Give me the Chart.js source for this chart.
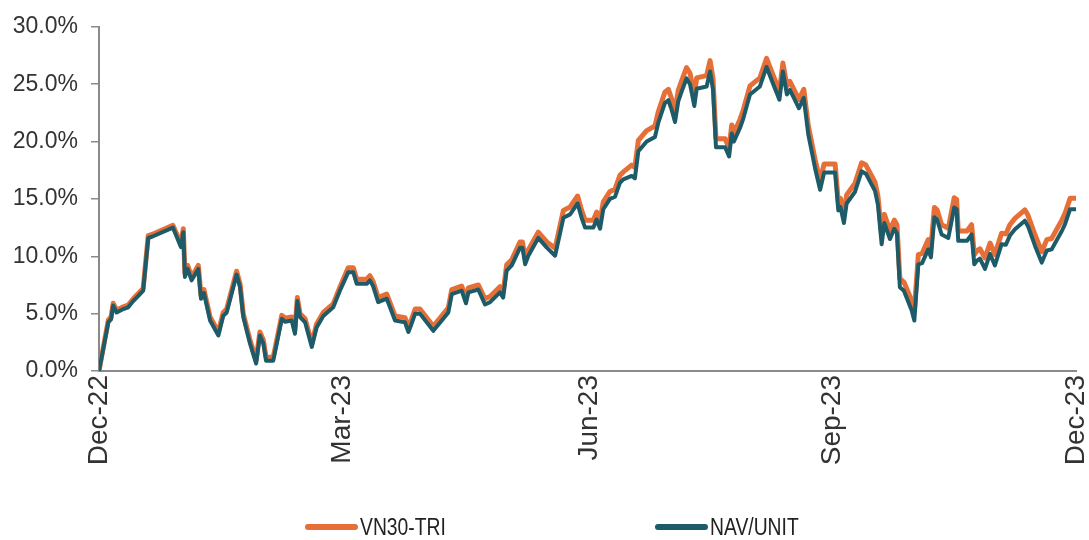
<!DOCTYPE html>
<html>
<head>
<meta charset="utf-8">
<script src="https://cdn.jsdelivr.net/npm/chart.js@4.4.0/dist/chart.umd.min.js"></script>
<style>
  html, body { margin: 0; padding: 0; background: #fff; }
  #wrap { position: relative; width: 1089px; height: 540px; }
  #legend { position: absolute; top: 513px; left: 0; width: 1089px; height: 28px;
    font: 23px "Liberation Sans", Arial, sans-serif; color: #222; }
  .item { position: absolute; top: 0; height: 28px; display: flex; align-items: center; white-space: nowrap; }
  .swatch { display: inline-block; width: 53px; height: 6px; border-radius: 3px; margin-right: 2px; }
  .txt { display: inline-block; transform: scaleX(0.84); transform-origin: left center; }
</style>
</head>
<body>
<div id="wrap">
  <canvas id="chart" width="1089" height="540"></canvas>
  <div id="legend"></div>
</div>
<script>
// days since 30-Dec-2022
const days = [
  0, 3.5, 4.5, 5.3, 6.6, 9.1, 10.9, 12.8, 14.7, 16.5, 18.4, 19.8, 27.6, 30.6, 31.5, 32.1, 33.1, 34.6, 37.1, 38.1,
  39.2, 41.5, 44.6, 46.4, 47.7, 51.4, 52.7, 53.9, 56.4, 58.7, 60.1, 61.4, 62.4, 65.1, 68.3, 69.5, 72.0, 73.2, 74.1, 75.1,
  77.0, 79.5, 81.3, 83.8, 87.5, 90.0, 93.1, 95.0, 96.3, 100.0, 101.2, 102.4, 104.3, 107.5, 110.6, 114.3, 115.6, 116.6, 118.1, 119.9,
  124.9, 128.6, 130.5, 131.8, 135.5, 137.1, 138.0, 141.7, 144.2, 146.1, 149.8, 151.0, 152.3, 154.2, 157.3, 158.2, 159.2, 160.4, 164.1, 167.3,
  170.4, 173.5, 176.0, 178.8, 180.3, 181.6, 184.7, 185.9, 187.2, 188.4, 190.9, 192.8, 194.6, 195.9, 199.0, 200.2, 201.5, 204.6, 207.7, 208.9,
  211.4, 212.7, 213.9, 215.2, 216.4, 217.6, 219.5, 220.8, 222.4, 223.3, 227.0, 228.3, 229.4, 230.5, 233.9, 235.4, 236.4, 237.2, 239.5, 240.7,
  243.2, 246.9, 249.4, 251.9, 254.2, 255.5, 257.0, 258.1, 259.6, 261.5, 263.3, 265.0, 267.5, 269.4, 270.9, 275.0, 276.2, 277.0, 278.3, 279.3,
  282.4, 284.9, 286.5, 289.9, 291.0, 292.4, 293.4, 295.5, 297.1, 298.1, 299.2, 300.7, 303.6, 304.6, 306.1, 307.5, 309.8, 310.8, 312.1, 313.1,
  314.8, 317.3, 319.5, 320.4, 321.0, 324.3, 326.0, 327.0, 327.9, 329.1, 331.0, 332.9, 334.7, 337.2, 338.8, 340.3, 342.2, 345.9, 347.1, 349.7,
  352.2, 354.1, 355.9, 359.7, 360.9, 362.8, 365
];

const vn30Tri = [
  0, 4.45, 4.7, 5.9, 5.3, 5.6, 5.75, 6.3, 6.75, 7.2, 11.8, 11.9, 12.7, 11.1, 12.4, 8.5, 9.2, 8.2, 9.2, 6.6,
  7.1, 4.7, 3.4, 5.1, 5.4, 8.7, 7.6, 5.0, 2.7, 0.95, 3.4, 2.7, 1.2, 1.2, 4.85, 4.6, 4.7, 3.55, 6.4, 5.0,
  4.55, 2.4, 4.1, 5.1, 5.85, 7.3, 9.0, 9.0, 8.0, 8.0, 8.3, 7.8, 6.4, 6.7, 4.8, 4.65, 3.8, 4.4, 5.4, 5.4,
  3.9, 4.95, 5.5, 7.1, 7.4, 6.3, 7.25, 7.5, 6.3, 6.5, 7.35, 6.9, 9.25, 9.7, 11.25, 11.25, 9.8, 10.55, 12.1, 11.25,
  10.7, 14.0, 14.3, 15.25, 14.0, 13.15, 13.15, 13.85, 13.05, 14.75, 15.65, 15.85, 17.05, 17.35, 17.95, 17.75, 20.1, 20.95, 21.35, 22.55,
  24.3, 24.55, 23.75, 22.65, 24.45, 25.25, 26.45, 25.95, 24.05, 25.55, 25.75, 27.05, 25.45, 20.25, 20.25, 19.45, 21.45, 20.75, 21.95, 22.75,
  24.85, 25.55, 27.25, 25.75, 24.4, 26.85, 24.85, 25.25, 24.55, 23.65, 24.55, 21.35, 18.45, 16.55, 18.05, 18.05, 14.75, 15.05, 13.65, 15.35,
  16.35, 18.15, 17.95, 16.45, 15.25, 11.8, 13.65, 12.25, 13.15, 12.75, 8.05, 7.75, 6.15, 5.25, 10.15, 10.25, 11.45, 10.75, 14.25, 14.05,
  12.75, 12.45, 15.1, 14.95, 12.2, 12.2, 12.75, 10.15, 10.45, 10.65, 9.85, 11.15, 10.15, 12.0, 11.95, 12.75, 13.3, 14.05, 13.55, 11.85,
  10.4, 11.45, 11.55, 13.15, 13.75, 15.05, 15.05
];

const navUnit = [
  0, 4.25, 4.5, 5.7, 5.1, 5.4, 5.55, 6.1, 6.55, 7.0, 11.6, 11.7, 12.5, 10.8, 12.1, 8.2, 8.9, 7.9, 8.9, 6.3,
  6.8, 4.4, 3.1, 4.8, 5.1, 8.4, 7.3, 4.7, 2.4, 0.65, 3.1, 2.4, 0.9, 0.9, 4.55, 4.3, 4.4, 3.25, 6.1, 4.7,
  4.25, 2.1, 3.8, 4.8, 5.55, 7.0, 8.6, 8.6, 7.6, 7.6, 7.9, 7.4, 6.0, 6.3, 4.4, 4.25, 3.4, 4.0, 5.0, 5.0,
  3.5, 4.55, 5.1, 6.7, 7.0, 5.9, 6.85, 7.1, 5.8, 6.0, 6.85, 6.4, 8.75, 9.2, 10.75, 10.75, 9.3, 10.05, 11.6, 10.75,
  10.05, 13.35, 13.65, 14.6, 13.35, 12.5, 12.5, 13.2, 12.4, 14.1, 15.0, 15.2, 16.4, 16.7, 17.0, 16.8, 19.15, 20.0, 20.4, 21.6,
  23.35, 23.6, 22.8, 21.7, 23.5, 24.3, 25.5, 25.0, 23.1, 24.6, 24.8, 26.1, 24.5, 19.5, 19.5, 18.7, 20.7, 20.0, 21.2, 22.0,
  24.1, 24.8, 26.5, 25.0, 23.65, 26.1, 24.1, 24.5, 23.8, 22.9, 23.8, 20.6, 17.7, 15.8, 17.3, 17.3, 14.0, 14.3, 12.9, 14.6,
  15.6, 17.4, 17.2, 15.7, 14.5, 11.05, 12.9, 11.5, 12.4, 12.0, 7.3, 7.0, 5.3, 4.4, 9.3, 9.4, 10.6, 9.9, 13.4, 13.2,
  11.9, 11.6, 14.25, 14.1, 11.35, 11.35, 11.9, 9.3, 9.6, 9.8, 8.9, 10.2, 9.2, 11.05, 11.0, 11.8, 12.35, 13.1, 12.6, 10.9,
  9.45, 10.5, 10.6, 12.2, 12.8, 14.1, 14.1
];

const tickDays = [0, 91, 183, 274, 365];
const tickLabels = ['Dec-22', 'Mar-23', 'Jun-23', 'Sep-23', 'Dec-23'];
const seriesNames = ['VN30-TRI', 'NAV/UNIT'];
const seriesColors = ['#E66E37', '#1D5B69'];

const toPoints = vals => days.map((d, i) => ({ x: d, y: vals[i] }));

// legend as html below the canvas
const legendLefts = [305, 655];
document.getElementById('legend').innerHTML = seriesNames.map((n, i) =>
  `<span class="item" style="left:${legendLefts[i]}px"><span class="swatch" style="background:${seriesColors[i]}"></span><span class="txt">${n}</span></span>`
).join('');

new Chart(document.getElementById('chart'), {
  type: 'line',
  data: {
    datasets: [
      { label: seriesNames[0], data: toPoints(vn30Tri), borderColor: seriesColors[0], borderWidth: 5, order: 1 },
      { label: seriesNames[1], data: toPoints(navUnit), borderColor: seriesColors[1], borderWidth: 4, order: 0 }
    ]
  },
  options: {
    responsive: false,
    animation: false,
    events: [],
    elements: { point: { radius: 0 }, line: { tension: 0, borderJoinStyle: 'round', borderCapStyle: 'round' } },
    layout: { padding: { left: 10, right: 13, top: 25, bottom: 69 } },
    plugins: { legend: { display: false }, tooltip: { enabled: false } },
    scales: {
      x: {
        type: 'linear',
        min: 0,
        max: 365,
        afterBuildTicks: s => { s.ticks = tickDays.map(v => ({ value: v })); },
        afterFit: s => { s.height = 100; s.paddingLeft = 0; s.paddingRight = 0; },
        grid: { display: false, drawTicks: false },
        border: { display: true, color: '#8a8a8a', width: 2 },
        ticks: {
          autoSkip: false,
          maxRotation: 90,
          minRotation: 90,
          padding: 4,
          color: '#333',
          font: { family: '"Liberation Sans", Arial, sans-serif', size: 28 },
          callback: (v) => tickLabels[tickDays.indexOf(v)]
        }
      },
      y: {
        min: 0,
        max: 30,
        afterFit: s => { s.width = 89; },
        grid: { drawOnChartArea: false, drawTicks: true, tickLength: 8, color: '#8a8a8a', lineWidth: 1.5 },
        border: { display: true, color: '#8a8a8a', width: 2 },
        ticks: {
          stepSize: 5,
          padding: 13,
          color: '#333',
          font: { family: '"Liberation Sans", Arial, sans-serif', size: 23 },
          callback: v => v.toFixed(1) + '%'
        }
      }
    }
  }
});
</script>
</body>
</html>
